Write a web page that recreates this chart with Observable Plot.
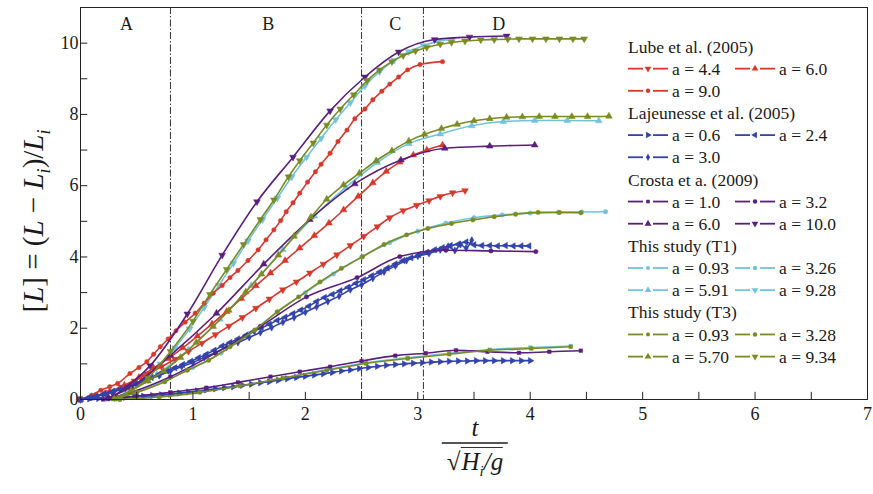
<!DOCTYPE html>
<html><head><meta charset="utf-8">
<script src="https://cdn.jsdelivr.net/npm/d3@7"></script>
<script src="https://cdn.jsdelivr.net/npm/@observablehq/plot@0.6"></script>
<style>
body{margin:0;background:#fff;}
#wrap{position:relative;width:873px;height:494px;font-family:"Liberation Serif","Times New Roman",serif;color:#1a1a1a;overflow:hidden;}
#ylab{position:absolute;left:36px;top:221px;transform:translate(-50%,-50%) rotate(-90deg);white-space:nowrap;font-size:29px;}
#ylab sub{font-size:18px;}
#xlab{position:absolute;left:475px;top:414px;transform:translateX(-50%);text-align:center;font-size:25px;font-style:italic;}
#xlab .num{padding:0 6px 0;line-height:28px;}
#xlab .den{border-top:2px solid #555;padding:3px 5px 0;line-height:30px;white-space:nowrap;}
#xlab .rad{border-top:1.5px solid #333;padding-left:1px;}
#xlab sub{font-size:15px;}
</style></head><body>
<div id="wrap"><div id="chart"></div>
<div id="ylab">[<i>L</i>] = (<i>L</i> − <i>L</i><sub><i>i</i></sub>)/<i>L</i><sub><i>i</i></sub></div>
<div id="xlab"><div class="num">t</div><div class="den"><span style="font-style:normal">√</span><span class="rad">H<sub>i</sub>/g</span></div></div>
</div>
<script>
// ---------- axis / annotation values ----------
const xTicks = [0,1,2,3,4,5,6,7];
const xMinorTicks = [0.5,1.5,2.5,3.5,4.5,5.5,6.5];
const yTicks = [0,2,4,6,8,10];
const yMinorTicks = [1,3,5,7,9];
const phaseBounds = [0.8, 2.5, 3.05];
const phaseNames = ["A","B","C","D"];
const phaseCenters = [0.41, 1.67, 2.8, 3.72];

const groupNames = ["Lube et al. (2005)","Lajeunesse et al. (2005)","Crosta et a. (2009)","This study (T1)","This study (T3)"];
const lubeLabels = ["a = 4.4","a = 6.0","a = 9.0"];
const lajLabels = ["a = 0.6","a = 2.4","a = 3.0"];
const crostaLabels = ["a = 1.0","a = 3.2","a = 6.0","a = 10.0"];
const t1Labels = ["a = 0.93","a = 3.26","a = 5.91","a = 9.28"];
const t3Labels = ["a = 0.93","a = 3.28","a = 5.70","a = 9.34"];

// ---------- series values [t/sqrt(Hi/g), [L]] ----------
const lube44 = [[0,0],[0.12,0.08],[0.24,0.2],[0.36,0.35],[0.48,0.52],[0.6,0.72],[0.72,0.92],[0.84,1.13],[0.96,1.35],[1.08,1.58],[1.2,1.82],[1.32,2.06],[1.44,2.3],[1.56,2.56],[1.68,2.82],[1.8,3.08],[1.92,3.3],[2.04,3.55],[2.16,3.8],[2.28,4.06],[2.4,4.32],[2.52,4.58],[2.64,4.85],[2.75,5.1],[2.87,5.3],[2.99,5.45],[3.1,5.58],[3.2,5.7],[3.31,5.8],[3.42,5.86]];
const lube60 = [[0,0],[0.13,0.1],[0.26,0.22],[0.39,0.4],[0.52,0.62],[0.65,0.88],[0.78,1.15],[0.91,1.45],[1.04,1.78],[1.17,2.12],[1.3,2.47],[1.43,2.83],[1.56,3.19],[1.69,3.55],[1.82,3.9],[1.95,4.25],[2.08,4.6],[2.21,4.95],[2.34,5.32],[2.47,5.7],[2.6,6.08],[2.72,6.4],[2.84,6.66],[2.96,6.86],[3.08,7.0],[3.22,7.14]];
const lube90 = [[0,0],[0.1,0.12],[0.18,0.26],[0.26,0.36],[0.33,0.45],[0.44,0.73],[0.52,0.9],[0.59,1.06],[0.65,1.27],[0.71,1.48],[0.78,1.7],[0.85,1.93],[0.93,2.17],[1.02,2.42],[1.1,2.7],[1.18,2.98],[1.26,3.2],[1.33,3.42],[1.4,3.62],[1.49,3.9],[1.58,4.2],[1.65,4.48],[1.72,4.76],[1.78,5.02],[1.83,5.27],[1.89,5.52],[1.95,5.79],[2.02,6.1],[2.09,6.39],[2.14,6.6],[2.22,6.91],[2.29,7.24],[2.37,7.56],[2.44,7.88],[2.53,8.15],[2.6,8.41],[2.68,8.65],[2.75,8.85],[2.83,9.05],[2.91,9.25],[3.02,9.4],[3.22,9.48]];

const laj06 = [[0,0],[0.08,0.02],[0.16,0.03],[0.24,0.04],[0.32,0.05],[0.4,0.06],[0.48,0.08],[0.56,0.09],[0.64,0.11],[0.72,0.13],[0.8,0.15],[0.88,0.18],[0.96,0.21],[1.04,0.24],[1.12,0.27],[1.2,0.3],[1.28,0.33],[1.36,0.36],[1.44,0.4],[1.52,0.43],[1.6,0.47],[1.68,0.5],[1.76,0.54],[1.84,0.58],[1.92,0.62],[2.0,0.65],[2.08,0.69],[2.16,0.72],[2.24,0.76],[2.32,0.8],[2.4,0.83],[2.48,0.87],[2.56,0.9],[2.64,0.93],[2.72,0.96],[2.8,0.98],[2.88,1.0],[2.96,1.02],[3.04,1.03],[3.12,1.05],[3.2,1.06],[3.28,1.07],[3.36,1.08],[3.44,1.08],[3.52,1.09],[3.6,1.09],[3.68,1.09],[3.76,1.09],[3.84,1.09],[3.92,1.09],[4.0,1.09]];
const laj24 = [[0,0],[0.07,0.05],[0.14,0.1],[0.21,0.16],[0.28,0.22],[0.35,0.29],[0.42,0.36],[0.49,0.44],[0.56,0.53],[0.63,0.62],[0.7,0.71],[0.77,0.8],[0.84,0.89],[0.91,0.98],[0.98,1.07],[1.05,1.17],[1.12,1.27],[1.19,1.38],[1.26,1.5],[1.33,1.6],[1.4,1.7],[1.47,1.8],[1.54,1.91],[1.61,2.01],[1.68,2.11],[1.75,2.22],[1.82,2.31],[1.89,2.41],[1.96,2.51],[2.03,2.62],[2.1,2.75],[2.17,2.86],[2.24,2.95],[2.31,3.05],[2.38,3.15],[2.45,3.26],[2.52,3.36],[2.59,3.47],[2.66,3.58],[2.73,3.69],[2.8,3.8],[2.87,3.9],[2.94,3.98],[3.01,4.06],[3.08,4.13],[3.15,4.2],[3.22,4.26],[3.29,4.32],[3.36,4.36],[3.43,4.42],[3.5,4.34],[3.57,4.32],[3.64,4.32],[3.71,4.31],[3.78,4.32],[3.85,4.31],[3.92,4.31],[3.99,4.31]];
const laj30 = [[0,0],[0.1,0.06],[0.2,0.13],[0.3,0.22],[0.4,0.32],[0.5,0.42],[0.6,0.55],[0.7,0.67],[0.8,0.8],[0.9,0.92],[1.0,1.04],[1.1,1.18],[1.2,1.32],[1.3,1.47],[1.4,1.6],[1.5,1.74],[1.6,1.88],[1.7,2.02],[1.8,2.17],[1.9,2.3],[2.0,2.45],[2.1,2.6],[2.2,2.75],[2.3,2.9],[2.4,3.08],[2.5,3.22],[2.6,3.4],[2.7,3.58],[2.8,3.75],[2.9,3.9],[3.0,4.02],[3.1,4.1],[3.2,4.2],[3.27,4.3],[3.33,4.18],[3.38,4.35],[3.43,4.25],[3.48,4.47]];

const crosta10 = [[0.2,0.0],[0.5,0.1],[0.8,0.2],[1.12,0.33],[1.4,0.48],[1.69,0.64],[1.95,0.78],[2.22,0.92],[2.5,1.08],[2.8,1.23],[3.07,1.3],[3.34,1.38],[3.62,1.34],[3.9,1.31],[4.17,1.34],[4.45,1.37]];
const crosta32 = [[0.25,0.02],[0.45,0.2],[0.8,0.64],[1.2,1.3],[1.6,2.05],[2.01,2.88],[2.46,3.42],[2.84,4.01],[3.25,4.19],[3.65,4.17],[4.05,4.15]];
const crosta60 = [[0.25,0.05],[0.45,0.35],[0.8,1.24],[1.21,2.42],[1.63,3.8],[2.04,5.05],[2.44,6.05],[2.85,6.72],[3.24,7.05],[3.64,7.11],[4.04,7.14]];
const crosta100 = [[0.3,0.1],[0.62,0.95],[0.95,2.4],[1.26,4.05],[1.57,5.55],[1.89,6.8],[2.22,8.1],[2.53,9.05],[2.83,9.75],[3.15,10.1],[3.46,10.17],[3.79,10.2]];

const t1_093 = [[0.35,0],[0.7,0.08],[1.06,0.21],[1.42,0.38],[1.8,0.6],[2.19,0.84],[2.54,1.03],[2.91,1.17],[3.28,1.3],[3.64,1.4],[4.0,1.46],[4.36,1.5]];
const t1_326 = [[0.3,0.02],[0.5,0.2],[0.75,0.52],[1.0,0.9],[1.25,1.3],[1.5,1.85],[1.75,2.45],[2.0,3.0],[2.25,3.52],[2.5,4.0],[2.75,4.4],[3.0,4.72],[3.25,4.95],[3.5,5.1],[3.75,5.18],[4.0,5.23],[4.25,5.25],[4.46,5.26],[4.67,5.27]];
const t1_591 = [[0.3,0.02],[0.4,0.18],[0.68,0.7],[0.96,1.4],[1.24,2.25],[1.52,3.2],[1.8,4.2],[2.08,5.15],[2.36,5.95],[2.64,6.65],[2.92,7.18],[3.2,7.45],[3.48,7.68],[3.76,7.8],[4.04,7.83],[4.33,7.83],[4.61,7.82]];
const t1_928 = [[0.32,0.05],[0.45,0.3],[0.58,0.62],[0.71,1.0],[0.84,1.45],[0.97,1.98],[1.1,2.58],[1.23,3.2],[1.36,3.82],[1.49,4.45],[1.62,5.05],[1.75,5.65],[1.88,6.25],[2.01,6.8],[2.14,7.33],[2.27,7.85],[2.4,8.33],[2.53,8.8],[2.66,9.2],[2.79,9.52],[2.92,9.76],[3.05,9.93],[3.18,10.05],[3.31,10.1]];

const t3_093 = [[0.35,0],[0.7,0.07],[1.06,0.2],[1.42,0.38],[1.8,0.6],[2.19,0.82],[2.54,1.01],[2.91,1.15],[3.28,1.27],[3.64,1.38],[4.01,1.43],[4.36,1.48]];
const t3_328 = [[0.3,0.02],[0.5,0.2],[0.75,0.5],[0.95,0.82],[1.14,1.1],[1.33,1.48],[1.55,1.95],[1.75,2.46],[1.94,2.88],[2.13,3.3],[2.32,3.68],[2.51,4.01],[2.7,4.35],[2.9,4.62],[3.09,4.8],[3.3,4.94],[3.49,5.04],[3.68,5.13],[3.87,5.2],[4.07,5.25],[4.26,5.25],[4.45,5.24]];
const t3_570 = [[0.3,0.02],[0.45,0.25],[0.6,0.52],[0.74,0.8],[0.89,1.18],[1.03,1.6],[1.18,2.05],[1.32,2.5],[1.47,3.02],[1.61,3.52],[1.76,4.05],[1.9,4.58],[2.05,5.12],[2.19,5.62],[2.34,6.02],[2.48,6.35],[2.63,6.7],[2.77,6.98],[2.92,7.25],[3.06,7.44],[3.21,7.6],[3.35,7.72],[3.5,7.82],[3.64,7.88],[3.79,7.92],[3.93,7.93],[4.08,7.94],[4.22,7.94],[4.37,7.94],[4.51,7.94],[4.7,7.95]];
const t3_934 = [[0.35,0.05],[0.6,0.6],[0.8,1.35],[1.0,2.2],[1.15,2.95],[1.3,3.65],[1.45,4.35],[1.6,5.05],[1.72,5.6],[1.85,6.25],[1.95,6.7],[2.07,7.2],[2.19,7.7],[2.31,8.15],[2.43,8.55],[2.55,8.95],[2.66,9.25],[2.77,9.48],[2.87,9.65],[2.98,9.78],[3.08,9.88],[3.2,9.97],[3.3,10.02],[3.42,10.06],[3.56,10.09],[3.68,10.1],[3.8,10.11],[3.9,10.12],[4.02,10.12],[4.14,10.12],[4.26,10.12],[4.38,10.12],[4.48,10.12]];

// ---------- styling ----------
const RED = "#d8382c", BLUE = "#3243ad", PURPLE = "#5a1f7d", CYAN = "#72c3da", OLIVE = "#7b8b23";
function mapSym(base, f) {
  return {draw(ctx, size) {
    base.draw({
      moveTo: (x, y) => ctx.moveTo(...f(x, y)),
      lineTo: (x, y) => ctx.lineTo(...f(x, y)),
      closePath: () => ctx.closePath(),
      arc: (x, y, r, a0, a1) => ctx.arc(x, y, r, a0, a1)
    }, size);
  }};
}
const SYM = {
  up: d3.symbolTriangle,
  down: mapSym(d3.symbolTriangle, (x, y) => [x, -y]),
  right: mapSym(d3.symbolTriangle, (x, y) => [-y, x]),
  left: mapSym(d3.symbolTriangle, (x, y) => [y, x]),
  circle: d3.symbolCircle,
  square: d3.symbolSquare,
  diamond: d3.symbolDiamond
};
const R = {up: 2.5, down: 2.5, right: 2.4, left: 2.4, circle: 2.2, square: 2.0, diamond: 2.2};

const series = [
  {g: 0, label: lubeLabels[0], color: RED, sym: "down", data: lube44},
  {g: 0, label: lubeLabels[1], color: RED, sym: "up", data: lube60},
  {g: 0, label: lubeLabels[2], color: RED, sym: "circle", data: lube90},
  {g: 1, label: lajLabels[0], color: BLUE, sym: "right", data: laj06},
  {g: 1, label: lajLabels[1], color: BLUE, sym: "left", data: laj24},
  {g: 1, label: lajLabels[2], color: BLUE, sym: "diamond", data: laj30},
  {g: 2, label: crostaLabels[0], color: PURPLE, sym: "square", data: crosta10},
  {g: 2, label: crostaLabels[1], color: PURPLE, sym: "circle", data: crosta32},
  {g: 2, label: crostaLabels[2], color: PURPLE, sym: "up", data: crosta60},
  {g: 2, label: crostaLabels[3], color: PURPLE, sym: "down", data: crosta100},
  {g: 3, label: t1Labels[0], color: CYAN, sym: "square", data: t1_093},
  {g: 3, label: t1Labels[1], color: CYAN, sym: "circle", data: t1_326},
  {g: 3, label: t1Labels[2], color: CYAN, sym: "up", data: t1_591},
  {g: 3, label: t1Labels[3], color: CYAN, sym: "down", data: t1_928},
  {g: 4, label: t3Labels[0], color: OLIVE, sym: "square", data: t3_093},
  {g: 4, label: t3Labels[1], color: OLIVE, sym: "circle", data: t3_328},
  {g: 4, label: t3Labels[2], color: OLIVE, sym: "up", data: t3_570},
  {g: 4, label: t3Labels[3], color: OLIVE, sym: "down", data: t3_934}
];
const drawOrder = [3, 0, 1, 2, 4];

const curveMarks = [];
for (const g of drawOrder) {
  for (const s of series.filter(d => d.g === g)) {
    curveMarks.push(Plot.line(s.data, {x: d => d[0], y: d => d[1], stroke: s.color, strokeWidth: 1.6, curve: "monotone-x"}));
    curveMarks.push(Plot.dot(s.data, {x: d => d[0], y: d => d[1], fill: s.color, stroke: s.color, strokeWidth: 0.5, symbol: SYM[s.sym], r: R[s.sym]}));
  }
}

const allX = xTicks.concat(xMinorTicks);
const allY = yTicks.concat(yMinorTicks);

const chart = Plot.plot({
  width: 873, height: 494,
  marginLeft: 80, marginRight: 6, marginTop: 7, marginBottom: 95,
  x: {domain: [0, 7]},
  y: {domain: [0, 11]},
  style: {fontFamily: "'Liberation Serif','Times New Roman',serif", fontSize: "18px", color: "#1a1a1a", background: "white"},
  marks: [
    Plot.ruleX(phaseBounds, {x: d => d, stroke: "#333", strokeWidth: 1, strokeDasharray: "7,2,1.5,2"}),
    ...curveMarks,
    Plot.ruleX(allX, {x: d => d, y1: 0, y2: 0.2, stroke: "#222"}),
    Plot.ruleY(allY, {y: d => d, x1: 0, x2: 0.065, stroke: "#222"}),
    Plot.axisX(xTicks, {tickSize: 0, tickPadding: 8, label: null, fontSize: 18}),
    Plot.axisY(yTicks, {tickSize: 0, tickPadding: 2, label: null, fontSize: 18}),
    Plot.text(phaseNames, {x: (d, i) => phaseCenters[i], frameAnchor: "top", dy: 10, text: d => d, fontSize: 18}),
    Plot.frame({stroke: "#222", strokeWidth: 1})
  ]
});
document.getElementById("chart").appendChild(chart);

// ---------- legend ----------
const leg = d3.select("#wrap").append("svg")
  .attr("width", 873).attr("height", 494)
  .style("position", "absolute").style("left", "0px").style("top", "0px")
  .style("font-family", "'Liberation Serif','Times New Roman',serif")
  .style("font-size", "17.5px").style("fill", "#1a1a1a");
const y0 = 46.5, step = 22.15;
let row = 0;
groupNames.forEach((gname, gi) => {
  leg.append("text").attr("x", 628).attr("y", y0 + row * step).attr("dy", "0.35em").text(gname);
  row++;
  series.filter(s => s.g === gi).forEach((s, k) => {
    const col = k % 2;
    if (k > 0 && col === 0) row++;
    const yy = y0 + row * step;
    const x0 = col ? 735 : 628;
    leg.append("line").attr("x1", x0).attr("x2", x0 + 15).attr("y1", yy).attr("y2", yy).attr("stroke", s.color).attr("stroke-width", 1.8);
    leg.append("line").attr("x1", x0 + 25).attr("x2", x0 + 40).attr("y1", yy).attr("y2", yy).attr("stroke", s.color).attr("stroke-width", 1.8);
    leg.append("path").attr("d", d3.symbol(SYM[s.sym], R[s.sym] * R[s.sym] * Math.PI)()).attr("transform", `translate(${x0 + 20},${yy})`).attr("fill", s.color);
    leg.append("text").attr("x", x0 + 44).attr("y", yy).attr("dy", "0.35em").text(s.label);
  });
  row++;
});
</script></body></html>
